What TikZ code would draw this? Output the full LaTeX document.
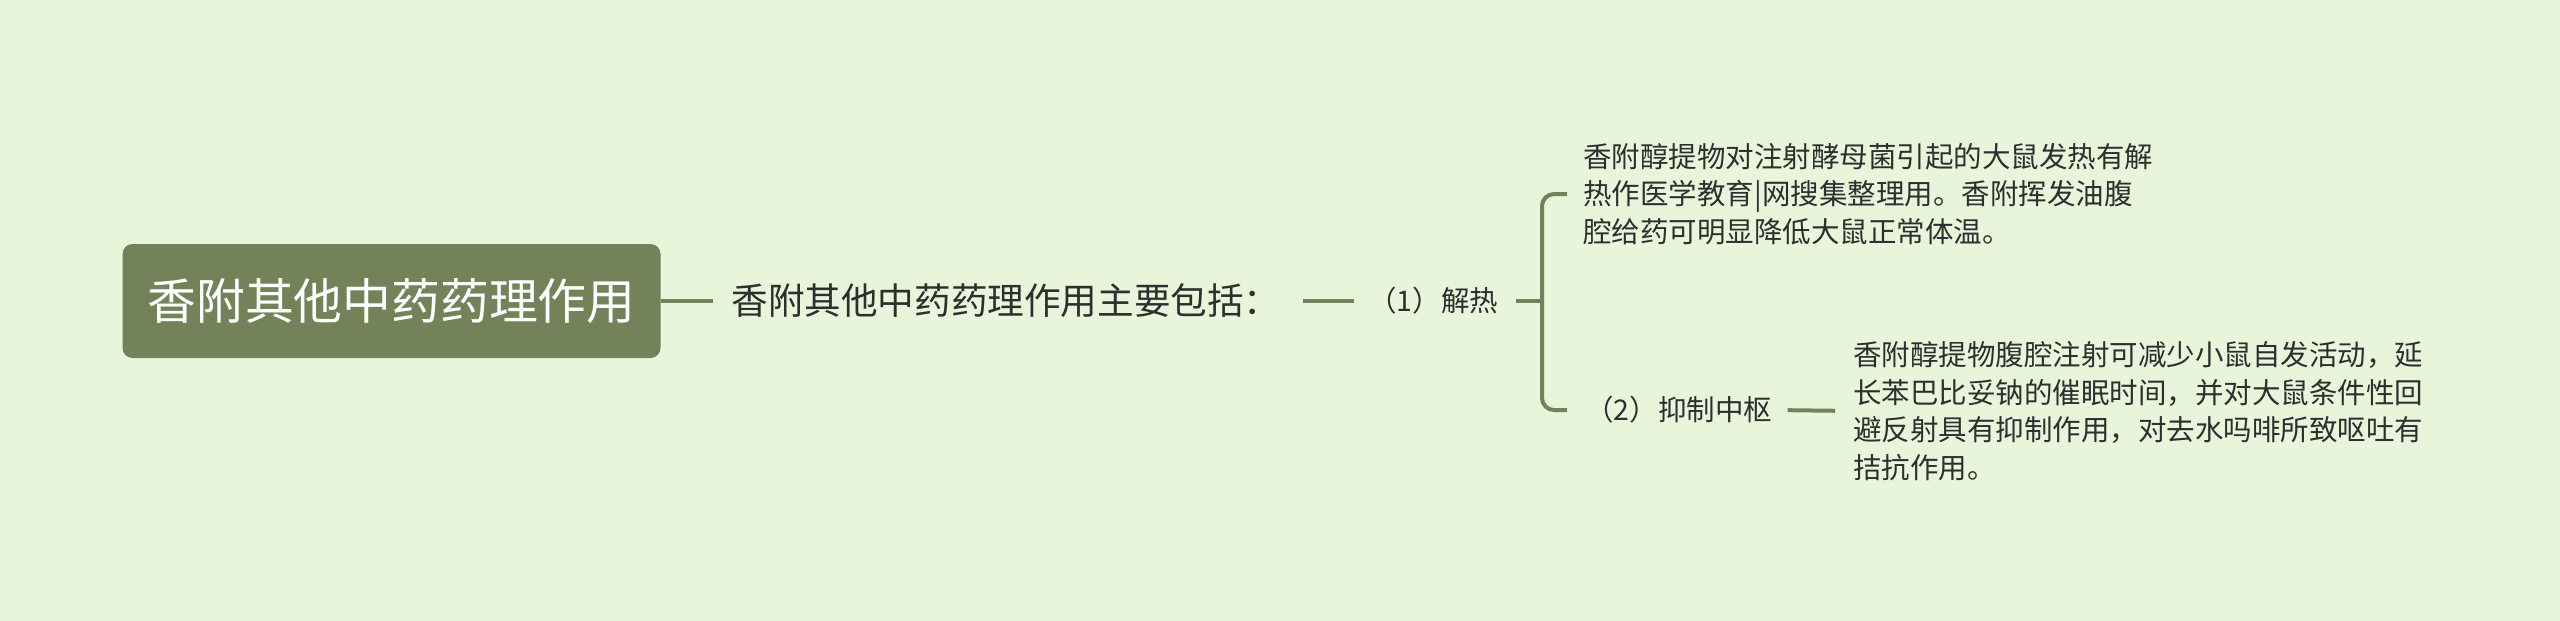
\documentclass[tikz,border=0pt]{standalone}
\usepackage{fontspec}
\setmainfont{Noto Sans CJK SC}
\usepackage{xcolor}
\usetikzlibrary{positioning}
\definecolor{cBack}{HTML}{E8F5DB}
\definecolor{cOlive}{HTML}{738258}
\definecolor{cInk}{HTML}{2E2E2E}
\tikzset{
  root/.style ={fill=cOlive, rounded corners=5pt, text=white, inner xsep=12.5pt,
                minimum height=57pt, font=\fontsize{24.4pt}{28pt}\selectfont},
  topic/.style={inner sep=0pt, text=cInk, font=\fontsize{18.3pt}{21pt}\selectfont},
  item/.style ={inner sep=0pt, text=cInk, font=\fontsize{14.25pt}{18.75pt}\selectfont},
  note/.style ={inner sep=0pt, text=cInk, align=left, font=\fontsize{14.25pt}{18.75pt}\selectfont},
  link/.style ={draw=cOlive, line width=2pt},
}
\begin{document}
\begin{tikzpicture}[x=0.5pt, y=-0.5pt]
        \fill[cBack] (0,0) rectangle (2560,621);
        \useasboundingbox (0,0) rectangle (2560,621);
        \node[root] (r) at (391.5,301){香附其他中药药理作用};
        \node[topic, anchor=west] (s) at (731,301){香附其他中药药理作用主要包括：};
        \node[item, anchor=west] (i1) at (1368,301){（1）解热};
        \coordinate (fk) at (1542,301);
        \node[note, anchor=west] (n1) at (1583,194){香附醇提物对注射酵母菌引起的大鼠发热有解\\热作医学教育|网搜集整理用。香附挥发油腹\\腔给药可明显降低大鼠正常体温。};
        \node[item, anchor=west] (i2) at (1585,410){（2）抑制中枢};
        \node[note, anchor=west] (n2) at (1853,411){香附醇提物腹腔注射可减少小鼠自发活动，延\\长苯巴比妥钠的催眠时间，并对大鼠条件性回\\避反射具有抑制作用，对去水吗啡所致呕吐有\\拮抗作用。};
        \draw[link, shorten >=9pt] (r.east)--(s.west);
        \draw[link, shorten <=11pt, shorten >=7pt] (s.east)--(i1.west);
        \draw[link, shorten <=8.5pt] (i1.east)--(fk);
        \draw[link, rounded corners=6pt, shorten <=8pt, shorten >=9pt] (n1.west) -| (fk) |- (i2.west);
        \draw[link, shorten <=7.5pt, shorten >=9pt] (i2.east)--(n2.west);
      \end{tikzpicture}
\end{document}
